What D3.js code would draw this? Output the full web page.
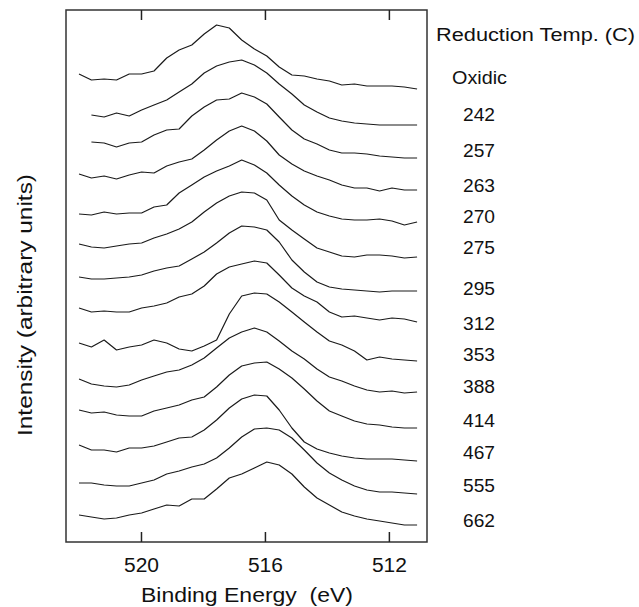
<!DOCTYPE html>
<html>
<head>
<meta charset="utf-8">
<script src="https://cdn.jsdelivr.net/npm/d3@7"></script>
<style>
  html, body { margin: 0; padding: 0; background: #fff; }
  svg { display: block; }
  text { font-family: "Liberation Sans", Arial, Helvetica, sans-serif; fill: #111; }
</style>
</head>
<body>
<svg id="chart" width="639" height="607"></svg>
<script>
// ---------------- DATA ----------------
// Binding energy grid (eV)
const energy = [522.00, 521.60, 521.19, 520.79, 520.38, 519.98, 519.58, 519.17, 518.77, 518.36,
                517.96, 517.56, 517.15, 516.75, 516.34, 515.94, 515.54, 515.13, 514.73, 514.32,
                513.92, 513.52, 513.11, 512.71, 512.30, 511.90, 511.50, 511.09];

// Reduction temperatures (series labels)
const seriesLabels = ["Oxidic", "242", "257", "263", "270", "275", "295", "312",
                      "353", "388", "414", "467", "555", "662"];

// Stacked intensities (arbitrary units), one array per spectrum
const sOxidic = [468, 462, 463, 462, 468, 468, 471, 484, 492, 497, 508, 517, 514, 502, 493, 486, 475, 467, 466, 463, 461, 457, 458, 456, 456, 456, 455, 453];
const s242 = [null, 427, 425, 429, 426, 432, 437, 442, 450, 458, 469, 476, 480, 482, 477, 469, 458, 448, 437, 430, 424, 421, 419, 418, 417, 417, 417, 417];
const s257 = [null, 400, 399, 395, 399, 400, 407, 412, 413, 426, 435, 442, 443, 449, 445, 438, 425, 412, 403, 398, 392, 389, 389, 388, 386, 385, 384, 384];
const s263 = [368, 364, 366, 363, 367, 370, 369, 376, 380, 383, 392, 402, 411, 416, 411, 401, 387, 378, 371, 366, 362, 357, 354, 354, 351, 354, 352, 352];
const s270 = [328, 327, 330, 328, 329, 329, 335, 337, 349, 357, 365, 371, 376, 382, 377, 369, 357, 346, 337, 330, 326, 323, 322, 322, 323, 321, 317, 320];
const s275 = [298, 295, 294, 296, 298, 299, 304, 308, 313, 320, 330, 339, 346, 350, 349, 342, 322, 312, 303, 294, 290, 286, 285, 287, 287, 286, 284, 285];
const s295 = [265, 263, 263, 264, 265, 267, 271, 274, 276, 283, 290, 299, 309, 316, 315, 312, 300, 282, 270, 260, 255, 253, 252, 251, 250, 251, 251, 251];
const s312 = [234, 230, 231, 230, 230, 234, 236, 239, 245, 248, 256, 268, 275, 278, 281, 279, 267, 254, 246, 240, 230, 225, 226, 224, 222, 224, 223, 220];
const s353 = [199, 195, 202, 192, 195, 197, 202, 199, 193, 191, 196, 202, 228, 246, 249, 248, 240, 230, 220, 210, 201, 197, 191, 182, 185, 183, 182, 181];
const s388 = [163, 158, 156, 155, 157, 162, 166, 170, 172, 177, 184, 194, 204, 210, 214, 210, 201, 191, 183, 173, 165, 161, 156, 152, 150, 151, 149, 150];
const s414 = [132, 129, 130, 127, 126, 126, 131, 134, 137, 142, 145, 155, 167, 176, 179, 180, 173, 164, 153, 141, 131, 126, 121, 118, 117, 115, 114, 114];
const s467 = [97, 92, 92, 90, 94, 94, 96, 100, 104, 105, 112, 122, 134, 143, 147, 146, 132, 114, 100, 93, 89, 86, 84, 83, 83, 83, 82, 81];
const s555 = [59, 59, 57, 56, 56, 59, 62, 68, 71, 75, 78, 84, 94, 105, 113, 114, 112, 104, 92, 79, 69, 62, 56, 52, 50, 50, 49, 48];
const s662 = [27, 25, 23, 24, 27, 29, 33, 37, 36, 43, 43, 53, 64, 68, 74, 80, 77, 68, 55, 44, 37, 30, 26, 23, 21, 19, 17, 17];

const xTicks = [520, 516, 512];
const legendTitle = "Reduction Temp. (C)";
const xTitle = "Binding Energy  (eV)";
const yTitle = "Intensity (arbitrary units)";

const seriesValues = [sOxidic, s242, s257, s263, s270, s275, s295, s312, s353, s388, s414, s467, s555, s662];

// ---------------- LAYOUT ----------------
const svg = d3.select("#chart");
const frame = { left: 66, right: 427, top: 10, bottom: 542 };

const x = d3.scaleLinear().domain([522.42, 510.77]).range([frame.left, frame.right]);
const y = d3.scaleLinear().domain([0, 532]).range([frame.bottom, frame.top]);

// frame
svg.append("rect")
  .attr("x", frame.left).attr("y", frame.top)
  .attr("width", frame.right - frame.left).attr("height", frame.bottom - frame.top)
  .attr("fill", "none").attr("stroke", "#333").attr("stroke-width", 1.5);

// bottom axis (inner ticks)
const bottomAxis = d3.axisBottom(x).tickValues(xTicks).tickSizeInner(-10).tickSizeOuter(0).tickPadding(16)
  .tickFormat(d3.format("d"));
const gb = svg.append("g").attr("transform", `translate(0,${frame.bottom})`).call(bottomAxis);
gb.select(".domain").remove();
gb.selectAll(".tick line").attr("stroke", "#222").attr("stroke-width", 1.5);
gb.selectAll(".tick text")
  .style("font-size", "20px")
  .style("font-family", "'Liberation Sans', Arial, sans-serif")
  .attr("fill", "#111")
  .attr("textLength", 35).attr("lengthAdjust", "spacingAndGlyphs");

// top axis (inner ticks, no labels)
const topAxis = d3.axisTop(x).tickValues(xTicks).tickSizeInner(-10).tickSizeOuter(0).tickFormat("");
const gt = svg.append("g").attr("transform", `translate(0,${frame.top})`).call(topAxis);
gt.select(".domain").remove();
gt.selectAll(".tick line").attr("stroke", "#222").attr("stroke-width", 1.5);

// spectra
const line = d3.line()
  .defined(d => d[1] != null)
  .x(d => x(d[0]))
  .y(d => y(d[1]));

svg.append("g").selectAll("path")
  .data(seriesValues)
  .join("path")
  .attr("d", vals => line(vals.map((v, i) => [energy[i], v])))
  .attr("fill", "none")
  .attr("stroke", "#1a1a1a")
  .attr("stroke-width", 1.2)
  .attr("stroke-linejoin", "round");

// legend
const labelY = [78, 115, 151, 186, 217, 248, 289, 324, 355, 387, 421, 453, 486, 521];
svg.append("text")
  .attr("x", 436).attr("y", 35)
  .attr("dominant-baseline", "central")
  .style("font-size", "18px")
  .attr("textLength", 199).attr("lengthAdjust", "spacingAndGlyphs")
  .text(legendTitle);
svg.append("g").selectAll("text")
  .data(seriesLabels)
  .join("text")
  .attr("x", (d, i) => i === 0 ? 452 : 463)
  .attr("y", (d, i) => labelY[i])
  .attr("dominant-baseline", "central")
  .style("font-size", "18px")
  .attr("textLength", (d, i) => i === 0 ? 55 : 32)
  .attr("lengthAdjust", "spacingAndGlyphs")
  .text(d => d);

// axis titles
svg.append("text")
  .attr("x", 247).attr("y", 595)
  .attr("text-anchor", "middle")
  .attr("dominant-baseline", "central")
  .style("font-size", "20px")
  .style("white-space", "pre")
  .attr("xml:space", "preserve")
  .attr("textLength", 212).attr("lengthAdjust", "spacingAndGlyphs")
  .text(xTitle);

svg.append("text")
  .attr("transform", "translate(25,305) rotate(-90)")
  .attr("text-anchor", "middle")
  .attr("dominant-baseline", "central")
  .style("font-size", "20px")
  .attr("textLength", 262).attr("lengthAdjust", "spacingAndGlyphs")
  .text(yTitle);
</script>
</body>
</html>
